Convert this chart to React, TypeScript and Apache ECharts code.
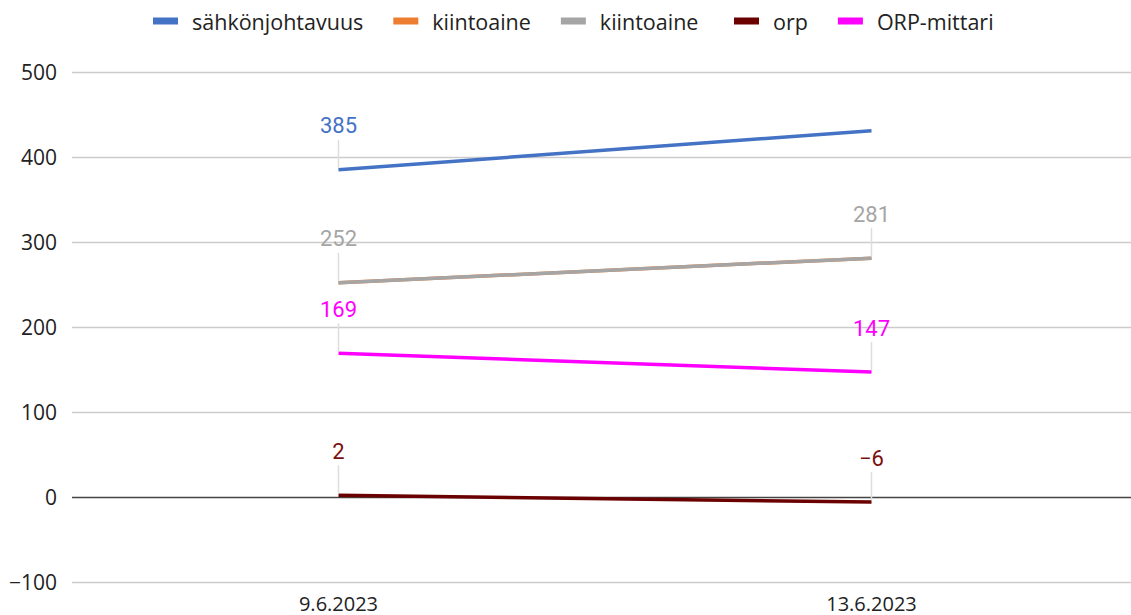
import React, { useEffect, useRef } from "react";
import * as echarts from "echarts";

const categories = ["9.6.2023", "13.6.2023"];
const sahkonjohtavuus = [385, 431];
const kiintoaineOrange = [252, 281];
const kiintoaineGray = [252, 281];
const orp = [2, -6];
const orpMittari = [169, 147];
const yTicks = { min: -100, max: 500, interval: 100 };

const fmt = (v: number) => (v < 0 ? "\u2212" + Math.abs(v) : String(v));

export default function App() {
  const ref = useRef<HTMLDivElement>(null);
  useEffect(() => {
    const chart = echarts.init(ref.current!, null, { renderer: "svg" });
    const mkLabel = (color: string, showIdx: number[] | null) => ({
      show: true,
      position: "top",
      distance: 2,
      align: "center",
      formatter: (p: any) =>
        showIdx && !showIdx.includes(p.dataIndex) ? "" : "{v|" + fmt(p.value) + "}\n{l| }",
      rich: {
        v: {
          fontFamily: "Roboto",
          fontSize: 22,
          color,
          lineHeight: 28,
          align: "center",
        },
        l: {
          width: 1.5,
          height: 28,
          lineHeight: 28,
          fontSize: 1,
          backgroundColor: "#dddddd",
          align: "center",
        },
      },
    });
    const common = {
      type: "line",
      symbol: "circle",
      showSymbol: true,
      symbolSize: 0,
    };
    chart.setOption({
      animation: false,
      grid: { left: 72, top: 72, width: 1066, height: 510, outerBoundsMode: "none" },
      legend: {
        top: 5,
        left: 148,
        itemWidth: 25,
        itemHeight: 7,
        itemGap: 30,
        icon: "rect",
        textStyle: {
          fontFamily: "Open Sans",
          fontSize: 21.5,
          color: "#222",
          padding: [0, 0, 0, 9],
        },
        data: ["sähkönjohtavuus", "kiintoaine", "kiintoaine ", "orp", "ORP-mittari"],
      },
      xAxis: {
        type: "category",
        data: categories,
        boundaryGap: true,
        axisLine: { show: false },
        axisTick: { show: false },
        axisLabel: {
          margin: 11,
          fontFamily: "Open Sans",
          fontSize: 20,
          color: "#222",
        },
      },
      yAxis: {
        type: "value",
        min: yTicks.min,
        max: yTicks.max,
        interval: yTicks.interval,
        axisLine: { show: false },
        axisTick: { show: false },
        axisLabel: {
          margin: 15,
          fontFamily: "Open Sans",
          fontSize: 21,
          color: "#222",
          formatter: (v: number) => fmt(v),
        },
        splitLine: {
          lineStyle: {
            color: ["#cccccc", "#444444", "#cccccc", "#cccccc", "#cccccc", "#cccccc", "#cccccc"],
            width: 1.3,
          },
        },
      },
      series: [
        {
          ...common,
          name: "sähkönjohtavuus",
          data: sahkonjohtavuus,
          color: "#4472C4",
          lineStyle: { width: 3.5, color: "#4472C4" },
          label: mkLabel("#4472C4", [0]),
        },
        {
          ...common,
          name: "kiintoaine",
          data: kiintoaineOrange,
          color: "#ED7D31",
          lineStyle: { width: 3.5, color: "#ED7D31" },
          label: { show: false },
        },
        {
          ...common,
          name: "kiintoaine ",
          data: kiintoaineGray,
          color: "#A5A5A5",
          lineStyle: { width: 3.5, color: "#A5A5A5" },
          label: mkLabel("#A5A5A5", null),
        },
        {
          ...common,
          name: "orp",
          data: orp,
          color: "#6B0000",
          lineStyle: { width: 3.5, color: "#6B0000" },
          label: mkLabel("#7A1010", null),
        },
        {
          ...common,
          name: "ORP-mittari",
          data: orpMittari,
          color: "#FF00FF",
          lineStyle: { width: 3.5, color: "#FF00FF" },
          label: mkLabel("#FF00FF", null),
        },
      ],
    });
    return () => chart.dispose();
  }, []);
  return <div ref={ref} style={{ width: 1131, height: 615, position: "absolute", left: 0, top: 0 }} />;
}
